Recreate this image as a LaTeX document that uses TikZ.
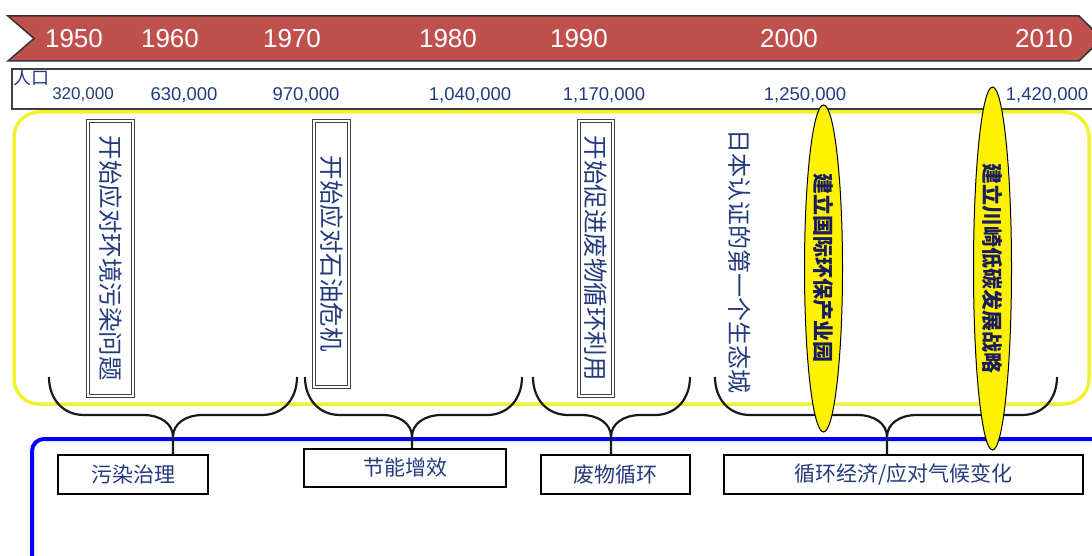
\documentclass[tikz,border=0pt]{standalone}
\usepackage{fontspec}
\setmainfont{Liberation Sans}
\newfontfamily\cjk{Noto Sans CJK SC}
\usetikzlibrary{positioning,shapes.geometric}
\definecolor{ribbon}{RGB}{192,80,77}
\definecolor{inkblue}{RGB}{35,58,125}
\definecolor{navyink}{RGB}{25,28,95}
\definecolor{frameyellow}{RGB}{242,242,50}
\tikzset{
year/.style={text=white, font=\fontsize{26}{26}\selectfont, inner sep=0pt}, % years on the ribbon
popnum/.style={text=inkblue, font=\fontsize{18.5}{18.5}\selectfont, inner sep=0pt},
eventbox/.style={draw=black!75, double, double distance=1.8pt, line width=0.8pt, rotate=-90, text=inkblue, font=\cjk\fontsize{24.5}{24.5}\selectfont, inner sep=0pt},
milestone/.style={ellipse, draw=black, line width=1pt, fill=yellow, rotate=-90, text=navyink, font=\cjk\bfseries\fontsize{21}{21}\selectfont, inner sep=0pt, minimum height=38pt},
phase/.style={draw=black, line width=2.4pt, text=inkblue, font=\cjk\fontsize{21}{21}\selectfont, minimum height=39pt, inner sep=0pt},
brace/.style={draw=black!90, line width=2.2pt},
}
\begin{document}
\begin{tikzpicture}[x=1pt,y=-1pt]
        \useasboundingbox (0,0) rectangle (1092,556);
        \clip (0,0) rectangle (1092,556);
        % frames
        \draw[frameyellow, line width=3.5pt, rounded corners=25pt] (14,112) rectangle (1089,404);
        \draw[black!75, line width=1.2pt] (12,69) rectangle (1110,109);
        \draw[fill=ribbon, draw=black!80, line width=1.5pt] (8,16) -- (1079,16) -- (1102,38.5) -- (1079,61) -- (8,61) -- (34,38.5) -- cycle;
        \draw[blue, line width=4pt, rounded corners=12pt] (32,439) rectangle (1120,620);
        % years
        \node[year] at (74,39) (y1950) {1950};
        \node[year] at (170,39) (y1960) {1960};
        \node[year] at (292,39) (y1970) {1970};
        \node[year] at (448,39) (y1980) {1980};
        \node[year] at (579,39) (y1990) {1990};
        \node[year] at (789,39) (y2000) {2000};
        \node[year] at (1044,39) (y2010) {2010};
        % population
        \node[text=inkblue, font=\cjk\fontsize{18}{18}\selectfont, inner sep=0pt] at (31,78) (poplabel) {人口};
        \node[popnum, font=\fontsize{17}{17}\selectfont] at (83,95) (p1950) {320,000};
        \node[popnum] at (184,95) (p1960) {630,000};
        \node[popnum] at (306,95) (p1970) {970,000};
        \node[popnum] at (470,95) (p1980) {1,040,000};
        \node[popnum] at (604,95) (p1990) {1,170,000};
        \node[popnum] at (805,95) (p2000) {1,250,000};
        \node[popnum] at (1047,95) (p2010) {1,420,000};
        % events
        \node[eventbox, minimum width=275pt, minimum height=45pt] at (110.5,258.5) (e1) {开始应对环境污染问题};
        \node[eventbox, minimum width=266pt, minimum height=35pt] at (331.5,254) (e2) {开始应对石油危机\hspace{38pt}};
        \node[eventbox, minimum width=275pt, minimum height=34pt] at (596,258.5) (e3) {开始促进废物循环利用};
        \node[text=inkblue, font=\cjk\fontsize{24}{24}\selectfont, rotate=-90, inner sep=0pt] at (740,262) (e4) {日本认证的第一个生态城};
        % phases
        \node[phase, minimum width=150pt] at (133,474.5) (f1) {污染治理};
        \node[phase, minimum width=202pt, minimum height=38pt] at (405,468) (f2) {节能增效};
        \node[phase, minimum width=149pt] at (615.5,474.5) (f3) {废物循环};
        \node[phase, minimum width=359pt] at (903.5,474.5) (f4) {循环经济/应对气候变化};
        \coordinate (t1) at (173,437);
        \coordinate (t2) at (412,437);
        \coordinate (t3) at (611,437);
        \coordinate (t4) at (887,437);
        \draw[brace]
        (49,377) .. controls (49,399) and (63,415) .. (84,415) -- (143,415) .. controls (161,415) and (173,424) .. (t1)
        .. controls (173,424) and (185,415) .. (203,415) -- (262,415) .. controls (283,415) and (297,399) .. (297,377)
        (305,377) .. controls (305,399) and (319,415) .. (340,415) -- (382,415) .. controls (400,415) and (412,424) .. (t2)
        .. controls (412,424) and (424,415) .. (442,415) -- (487,415) .. controls (508,415) and (522,399) .. (522,377)
        (533,377) .. controls (533,399) and (547,415) .. (568,415) -- (581,415) .. controls (599,415) and (611,424) .. (t3)
        .. controls (611,424) and (623,415) .. (641,415) -- (655,415) .. controls (676,415) and (690,399) .. (690,377)
        (715,377) .. controls (715,399) and (729,415) .. (750,415) -- (857,415) .. controls (875,415) and (887,424) .. (t4)
        .. controls (887,424) and (899,415) .. (917,415) -- (1022,415) .. controls (1043,415) and (1057,399) .. (1057,377)
        (t1) -- (t1 |- f1.north)
        (t2) -- (t2 |- f2.north)
        (t3) -- (t3 |- f3.north)
        (t4) -- (t4 |- f4.north)
        ;
        % milestones
        \node[milestone, minimum width=327pt] at (823.5,268.5) (m1) {建立国际环保产业园};
        \node[milestone, minimum width=363pt] at (992.5,268.5) (m2) {建立川崎低碳发展战略};
\end{tikzpicture}
\end{document}
